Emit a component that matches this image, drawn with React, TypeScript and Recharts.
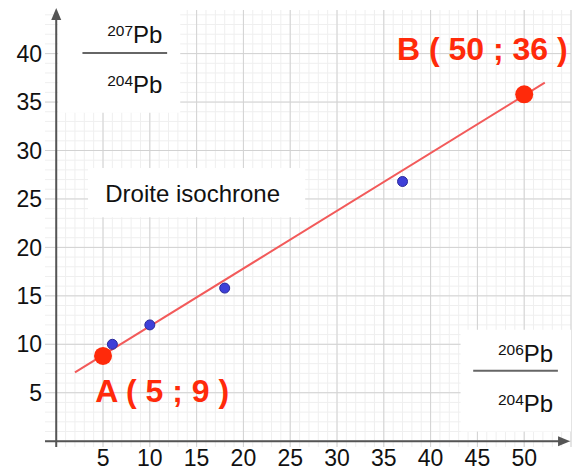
import React from "react";
import {
  ScatterChart,
  Scatter,
  XAxis,
  YAxis,
  CartesianGrid,
  ReferenceLine,
  ReferenceArea,
  ReferenceDot,
} from "recharts";

// ---- data ----
const xTicks = [5, 10, 15, 20, 25, 30, 35, 40, 45, 50];
const yTicks = [5, 10, 15, 20, 25, 30, 35, 40];
const majorX = [0, 5, 10, 15, 20, 25, 30, 35, 40, 45, 50, 55];
const majorY = [0, 5, 10, 15, 20, 25, 30, 35, 40];
const minorX = Array.from({ length: 56 }, (_, i) => i);
const minorY = Array.from({ length: 45 }, (_, i) => i);

const samplePoints = [
  { x: 6, y: 10 },
  { x: 10, y: 12 },
  { x: 18, y: 15.8 },
  { x: 37, y: 26.8 },
];
const endPoints = [
  { x: 5, y: 8.8 },
  { x: 50, y: 35.8 },
];
const isochrone = [
  { x: 2.0, y: 7.1 },
  { x: 52.2, y: 37.0 },
];

const FONT = "'Liberation Sans', Arial, Helvetica, sans-serif";
const RED = "#ff2a0a";

const TextAt = (txt: string, size: number, color: string, bold = false) => (p: any) => (
  <text
    x={p.cx}
    y={p.cy}
    fill={color}
    fontSize={size}
    fontWeight={bold ? 700 : 400}
    fontFamily={FONT}
    textAnchor="start"
  >
    {txt}
  </text>
);

const IsoText = (sup: string) => (p: any) => (
  <text x={p.cx} y={p.cy} fill="#111" fontFamily={FONT} textAnchor="start">
    <tspan fontSize={15.5} dy={-7}>{sup}</tspan>
    <tspan fontSize={24} dy={7}>Pb</tspan>
  </text>
);

const ArrowRight = (p: any) => (
  <polygon
    points={`${p.cx},${p.cy} ${p.cx - 12},${p.cy - 5} ${p.cx - 12},${p.cy + 5}`}
    fill="#555"
  />
);
const ArrowUp = (p: any) => (
  <polygon
    points={`${p.cx},${p.cy} ${p.cx - 5},${p.cy + 12} ${p.cx + 5},${p.cy + 12}`}
    fill="#555"
  />
);

const BlueDot = (p: any) => (
  <circle cx={p.cx} cy={p.cy} r={5} fill="#3d3fd8" stroke="#2a2a9a" strokeWidth={1} />
);
const RedDot = (p: any) => <circle cx={p.cx} cy={p.cy} r={9} fill={RED} />;
const NoDot = () => null;

export default function App() {
  return (
    <div style={{ position: "absolute", left: 0, top: 0, background: "#fff" }}>
      <ScatterChart
        width={577}
        height={472}
        margin={{ top: 10, right: 6, left: 0, bottom: 0 }}
      >
        <CartesianGrid
          stroke="#efefef"
          strokeWidth={1}
          verticalValues={minorX}
          horizontalValues={minorY}
        />
        <CartesianGrid
          stroke="#d2d2d2"
          strokeWidth={1}
          verticalValues={majorX}
          horizontalValues={majorY}
        />
        <XAxis
          type="number"
          dataKey="x"
          domain={[-1.2, 55]}
          ticks={xTicks}
          interval={0}
          allowDataOverflow
          axisLine={false}
          tickLine={false}
          tickSize={0}
          tickMargin={3}
          height={25}
          tick={{ fill: "#111", fontSize: 23, fontFamily: FONT }}
        />
        <YAxis
          type="number"
          dataKey="y"
          domain={[-0.6, 44.5]}
          ticks={yTicks}
          interval={0}
          allowDataOverflow
          axisLine={false}
          tickLine={false}
          tickSize={0}
          tickMargin={3}
          width={45}
          tick={{ fill: "#111", fontSize: 23, fontFamily: FONT }}
        />

        {/* white label boxes */}
        <ReferenceArea x1={0.2} x2={13.25} y1={33.9} y2={44.5} fill="#fff" fillOpacity={1} stroke="none" ifOverflow="visible" />
        <ReferenceArea x1={3.4} x2={26.6} y1={23.1} y2={28.2} fill="#fff" fillOpacity={1} stroke="none" />
        <ReferenceArea x1={43.2} x2={55} y1={1.0} y2={11.5} fill="#fff" fillOpacity={1} stroke="none" />

        {/* axes */}
        <ReferenceLine
          segment={[{ x: -1.2, y: 0 }, { x: 54, y: 0 }]}
          stroke="#555"
          strokeWidth={2}
          ifOverflow="visible"
        />
        <ReferenceLine
          segment={[{ x: 0, y: -0.6 }, { x: 0, y: 44 }]}
          stroke="#555"
          strokeWidth={2}
          ifOverflow="visible"
        />
        <ReferenceDot x={54.9} y={0} r={1} shape={ArrowRight} ifOverflow="visible" />
        <ReferenceDot x={0} y={44.7} r={1} shape={ArrowUp} ifOverflow="visible" />

        {/* fraction labels */}
        <ReferenceDot x={5.45} y={41.1} r={1} shape={IsoText("207")} ifOverflow="visible" />
        <ReferenceLine segment={[{ x: 2.8, y: 40.05 }, { x: 11.85, y: 40.05 }]} stroke="#666" strokeWidth={2} />
        <ReferenceDot x={5.45} y={35.9} r={1} shape={IsoText("204")} ifOverflow="visible" />

        <ReferenceDot x={47.2} y={8.2} r={1} shape={IsoText("206")} ifOverflow="visible" />
        <ReferenceLine segment={[{ x: 44.55, y: 7.27 }, { x: 53.6, y: 7.27 }]} stroke="#666" strokeWidth={2} />
        <ReferenceDot x={47.2} y={3.04} r={1} shape={IsoText("204")} ifOverflow="visible" />

        <ReferenceDot x={5.24} y={24.7} r={1} shape={TextAt("Droite isochrone", 24, "#111")} ifOverflow="visible" />

        {/* isochrone line */}
        <Scatter
          data={isochrone}
          line={{ stroke: "#f25a5a", strokeWidth: 2 }}
          shape={NoDot}
          isAnimationActive={false}
        />
        <Scatter data={samplePoints} shape={BlueDot} isAnimationActive={false} />
        <Scatter data={endPoints} shape={RedDot} isAnimationActive={false} />

        <ReferenceDot x={36.4} y={39.3} r={1} shape={TextAt("B ( 50 ; 36 )", 32, RED, true)} ifOverflow="visible" />
        <ReferenceDot x={4.17} y={4.07} r={1} shape={TextAt("A ( 5 ; 9 )", 32, RED, true)} ifOverflow="visible" />
      </ScatterChart>
    </div>
  );
}
